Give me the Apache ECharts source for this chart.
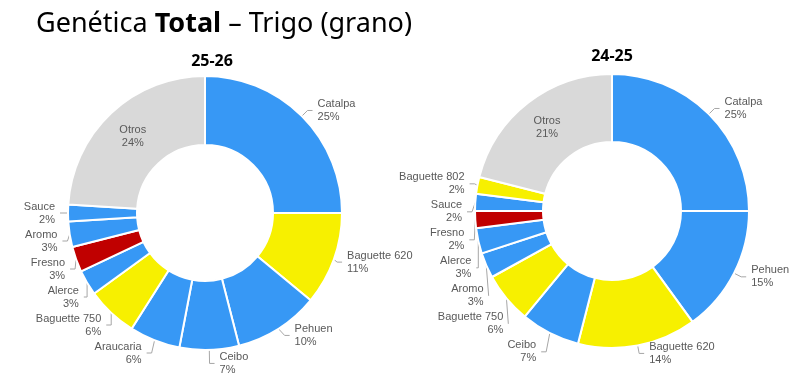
<!DOCTYPE html>
<html>
<head>
<meta charset="utf-8">
<title>Genética Total – Trigo (grano)</title>
<script src="https://cdn.jsdelivr.net/npm/echarts@6/dist/echarts.min.js"></script>
<style>
  html, body { margin: 0; padding: 0; background: #fff; }
  #main { width: 790px; height: 391px; }
</style>
</head>
<body>
<div id="main"></div>
<script>
// campaña 25-26
var names2526 = ['Catalpa', 'Baguette 620', 'Pehuen', 'Ceibo', 'Araucaria', 'Baguette 750', 'Alerce', 'Fresno', 'Aromo', 'Sauce', 'Otros'];
var vals2526 = [25, 11, 10, 7, 6, 6, 3, 3, 3, 2, 24];
// campaña 24-25
var names2425 = ['Catalpa', 'Pehuen', 'Baguette 620', 'Ceibo', 'Baguette 750', 'Aromo', 'Alerce', 'Fresno', 'Sauce', 'Baguette 802', 'Otros'];
var vals2425 = [25, 15, 14, 7, 6, 3, 3, 2, 2, 2, 21];

var BLUE = '#3798f5', YELLOW = '#f7f000', RED = '#c00000', GREY = '#d9d9d9';

function colorOf(name) {
  if (name.indexOf('Baguette') === 0) return YELLOW;
  if (name === 'Fresno') return RED;
  if (name === 'Otros') return GREY;
  return BLUE;
}

function buildData(names, vals) {
  var out = [];
  for (var i = 0; i < names.length; i++) {
    var d = { name: names[i], value: vals[i], itemStyle: { color: colorOf(names[i]) } };
    if (names[i] === 'Otros') {
      d.label = { position: 'inside' };
      d.labelLine = { show: false };
    }
    out.push(d);
  }
  return out;
}

function pieSeries(names, vals, center, radius) {
  return {
    type: 'pie',
    center: center,
    radius: radius,
    startAngle: 90,
    clockwise: true,
    avoidLabelOverlap: true,
    itemStyle: { borderColor: '#fff', borderWidth: 2 },
    label: {
      show: true,
      formatter: '{b}\n{c}%',
      color: '#595959',
      fontFamily: 'Liberation Sans',
      fontSize: 11,
      lineHeight: 13,
      align: 'center',
      overflow: 'none'
    },
    labelLine: { show: true, length: 8, length2: 5, lineStyle: { color: '#a6a6a6', width: 1 } },
    emphasis: { disabled: true },
    data: buildData(names, vals)
  };
}

var myChart = echarts.init(document.getElementById('main'));
myChart.setOption({
  animation: false,
  title: [
    {
      text: 'Genética {b|Total} – Trigo (grano)',
      left: 31, top: 6,
      textStyle: {
        fontFamily: 'Noto Sans', fontSize: 27, fontWeight: 'normal', color: '#000',
        rich: { b: { fontFamily: 'Noto Sans', fontSize: 27, fontWeight: 'bold', color: '#000' } }
      }
    },
    { text: '25-26', left: 207, top: 48, textAlign: 'center', textStyle: { fontFamily: 'Noto Sans', fontSize: 16, fontWeight: 'bold', color: '#000' } },
    { text: '24-25', left: 607, top: 43, textAlign: 'center', textStyle: { fontFamily: 'Noto Sans', fontSize: 16, fontWeight: 'bold', color: '#000' } }
  ],
  series: [
    pieSeries(names2526, vals2526, [205, 213], [68, 137]),
    pieSeries(names2425, vals2425, [612, 211], [69, 137])
  ]
});
</script>
</body>
</html>
